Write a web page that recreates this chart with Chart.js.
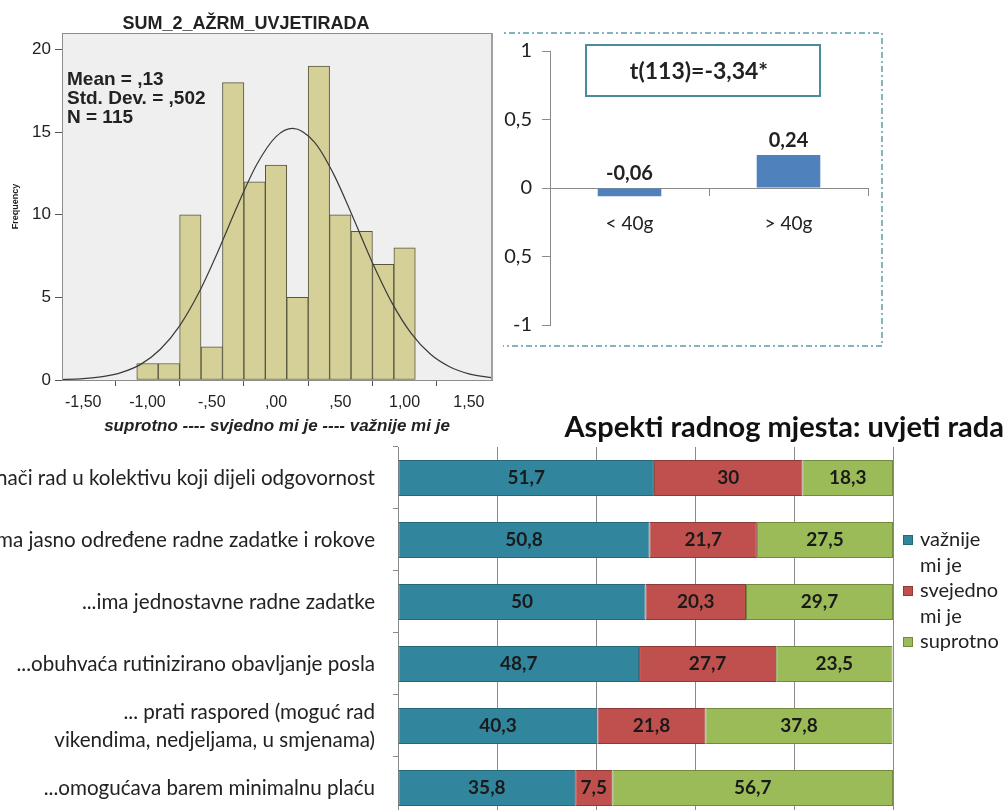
<!DOCTYPE html>
<html>
<head>
<meta charset="utf-8">
<script src="https://cdn.jsdelivr.net/npm/chart.js@4.4.1/dist/chart.umd.min.js"></script>
<style>
  html, body { margin: 0; padding: 0; background: #fff; overflow: hidden; }
  body { width: 1005px; height: 810px; position: relative; }
  canvas { position: absolute; }
  #hist { left: 0; top: 0; z-index: 3; }
  #ttest { left: 490px; top: 30px; z-index: 2; }
  #aspects { left: 0; top: 400px; z-index: 1; }
</style>
</head>
<body>
<canvas id="hist" width="503" height="440"></canvas>
<canvas id="ttest" width="400" height="320"></canvas>
<canvas id="aspects" width="1005" height="451"></canvas>
<script>
// --- histogram (SPSS) ---
const histTitle = 'SUM_2_AŽRM_UVJETIRADA';
const histXTitle = 'suprotno ---- svjedno mi je ---- važnije mi je';
const binCenters = [-1.0, -0.8333, -0.6667, -0.5, -0.3333, -0.1667, 0, 0.1667, 0.3333, 0.5, 0.6667, 0.8333, 1.0];
const binCounts = [1, 1, 10, 2, 18, 12, 13, 5, 19, 10, 9, 7, 8];
const curveX = [-1.7, -1.5, -1.35, -1.2, -1.05, -0.9, -0.75, -0.6, -0.45, -0.3, -0.15, 0, 0.13, 0.3, 0.45, 0.6, 0.75, 0.9, 1.05, 1.2, 1.35, 1.5, 1.7];
const curveY = [0.02, 0.08, 0.2, 0.46, 0.96, 1.86, 3.28, 5.29, 7.81, 10.55, 13.04, 14.73, 15.23, 14.38, 12.43, 9.82, 7.1, 4.7, 2.84, 1.57, 0.8, 0.37, 0.12];
const histTickValues = [-1.5, -1, -0.5, 0, 0.5, 1, 1.5];
const histTickLabels = ['-1,50', '-1,00', '-,50', ',00', ',50', '1,00', '1,50'];
const histYTicks = [0, 5, 10, 15, 20];
const histStats = ['Mean = ,13', 'Std. Dev. = ,502', 'N = 115'];

// --- t-test bars ---
const ageGroups = ['< 40g', '> 40g'];
const groupMeans = [-0.06, 0.24];
const ttestYTicks = [-1, -0.5, 0, 0.5, 1];
const ttestLabel = 't(113)=-3,34*';

// --- stacked aspects ---
const aspectTitle = 'Aspekti radnog mjesta: uvjeti rada';
const aspectLabels = [
    '...znači rad u kolektivu koji dijeli odgovornost',
    '...ima jasno određene radne zadatke i rokove',
    '...ima jednostavne radne zadatke',
    '...obuhvaća rutinizirano obavljanje posla',
    ['... prati raspored (moguć rad', 'vikendima, nedjeljama, u smjenama)'],
    '...omogućava barem minimalnu plaću'
];
const importantShare = [51.7, 50.8, 50, 48.7, 40.3, 35.8];
const indifferentShare = [30, 21.7, 20.3, 27.7, 21.8, 7.5];
const oppositeShare = [18.3, 27.5, 29.7, 23.5, 37.8, 56.7];
const seriesNames = ['važnije mi je', 'svejedno mi je', 'suprotno'];
const legendLines = [['važnije', 'mi je'], ['svejedno', 'mi je'], ['suprotno']];
const percentTicks = [0, 20, 40, 60, 80, 100];

const COLORS = {
    histBar: '#d5d098',
    histEdge: '#56563f',
    histPlot: '#efefef',
    curve: '#3a3a3a',
    meanBar: '#4f81bd',
    frame: '#5f9aaa',
    important: '#31859c',
    indifferent: '#c0504d',
    opposite: '#9bbb59',
    axis: '#8a8a8a',
    text: '#222',
};
const ARIAL = "'Liberation Sans', Arial, sans-serif";
const CALIBRI = "Lato, 'Noto Sans', sans-serif";

function commaNum(v, digits) {
    return (digits === undefined ? String(v) : v.toFixed(digits)).replace('.', ',');
}

const histDecor = {
    id: 'histDecor',
    beforeDraw(chart) {
        const { ctx, chartArea: a } = chart;
        ctx.save();
        ctx.fillStyle = '#fff';
        ctx.fillRect(0, 0, chart.width, chart.height);
        ctx.fillStyle = COLORS.histPlot;
        ctx.fillRect(a.left, a.top, a.right - a.left, a.bottom - a.top);
        ctx.restore();
    },
    afterDraw(chart) {
        const { ctx, chartArea: a } = chart;
        ctx.save();
        ctx.strokeStyle = '#8c8c8c';
        ctx.lineWidth = 1;
        ctx.strokeRect(a.left + 0.5, a.top + 0.5, a.right - a.left - 1, a.bottom - a.top);
        ctx.lineWidth = 2;
        ctx.strokeStyle = '#a0a0a0';
        ctx.beginPath();
        ctx.moveTo(a.right, a.top);
        ctx.lineTo(a.right, a.bottom);
        ctx.stroke();
        ctx.fillStyle = COLORS.text;
        ctx.font = `bold 19px ${ARIAL}`;
        ctx.textBaseline = 'middle';
        histStats.forEach((s, i) => ctx.fillText(s, a.left + 5, a.top + 47 + i * 19));
        ctx.restore();
    }
};

new Chart(document.getElementById('hist'), {
    type: 'bar',
    data: {
        datasets: [
            {
                type: 'line',
                data: curveX.map((x, i) => ({ x: x, y: curveY[i] })),
                borderColor: COLORS.curve,
                borderWidth: 1.2,
                pointRadius: 0,
                cubicInterpolationMode: 'monotone',
                order: 0
            },
            {
                type: 'bar',
                data: binCenters.map((x, i) => ({ x: x, y: binCounts[i] })),
                backgroundColor: COLORS.histBar,
                borderColor: COLORS.histEdge,
                borderWidth: 1,
                borderSkipped: false,
                barPercentage: 1,
                categoryPercentage: 1,
                order: 1
            }
        ]
    },
    options: {
        responsive: false,
        animation: false,
        devicePixelRatio: 1,
        layout: { padding: { top: 0, right: 11, bottom: 0, left: 0 } },
        plugins: {
            legend: { display: false },
            tooltip: { enabled: false },
            title: {
                display: true,
                text: histTitle,
                color: COLORS.text,
                font: { family: ARIAL, size: 18, weight: 'bold', lineHeight: 1 },
                padding: { top: 15, bottom: 0 }
            }
        },
        scales: {
            x: {
                type: 'linear',
                min: -1.665,
                max: 1.68,
                offset: false,
                afterBuildTicks: s => { s.ticks = histTickValues.map(v => ({ value: v })); },
                afterFit: s => { s.height = 60; },
                ticks: {
                    callback: v => histTickLabels[histTickValues.indexOf(v)],
                    font: { family: ARIAL, size: 16 },
                    color: COLORS.text,
                    padding: 7,
                    maxRotation: 0,
                    autoSkip: false
                },
                grid: { drawOnChartArea: false, tickLength: 6, color: '#555' },
                border: { color: '#8c8c8c' },
                title: {
                    display: true,
                    text: histXTitle,
                    color: COLORS.text,
                    font: { family: ARIAL, size: 17, weight: 'bold', style: 'italic' },
                    padding: { top: 4, bottom: 3 }
                }
            },
            y: {
                min: 0,
                max: 21,
                afterBuildTicks: s => { s.ticks = histYTicks.map(v => ({ value: v })); },
                afterFit: s => { s.width = 62; },
                ticks: { font: { family: ARIAL, size: 17 }, color: COLORS.text, padding: 4 },
                grid: { drawOnChartArea: false, tickLength: 7, color: '#555' },
                border: { color: '#8c8c8c' },
                title: {
                    display: true,
                    text: 'Frequency',
                    color: COLORS.text,
                    font: { family: ARIAL, size: 9, weight: 'bold' },
                    padding: { top: 10, bottom: 0 }
                }
            }
        }
    },
    plugins: [histDecor]
});

const ttestDecor = {
    id: 'ttestDecor',
    afterDraw(chart) {
        const { ctx, chartArea: a } = chart;
        ctx.save();
        // dash-dot frame
        ctx.strokeStyle = COLORS.frame;
        ctx.lineWidth = 1.5;
        ctx.setLineDash([6, 3, 2, 3]);
        ctx.strokeRect(5, 3, 387, 313);
        ctx.setLineDash([]);
        // value labels
        ctx.fillStyle = COLORS.text;
        ctx.font = `bold 20px ${CALIBRI}`;
        ctx.textAlign = 'center';
        ctx.textBaseline = 'middle';
        chart.getDatasetMeta(0).data.forEach((bar, i) => {
            const top = Math.min(bar.y, bar.base);
            ctx.fillText(commaNum(groupMeans[i], 2), bar.x, top - 15);
        });
        // t-test box
        const cx = (a.left + a.right) / 2 - 6;
        ctx.strokeStyle = '#4a8b9c';
        ctx.lineWidth = 2;
        ctx.strokeRect(cx - 117, a.top - 6, 234, 51);
        ctx.font = `bold 23px ${CALIBRI}`;
        ctx.fillText(ttestLabel, cx - 4, a.top + 21);
        ctx.restore();
    }
};

new Chart(document.getElementById('ttest'), {
    type: 'bar',
    data: {
        labels: ageGroups,
        datasets: [{
            data: groupMeans,
            backgroundColor: COLORS.meanBar,
            barPercentage: 0.4,
            categoryPercentage: 1
        }]
    },
    options: {
        responsive: false,
        animation: false,
        devicePixelRatio: 1,
        layout: { padding: { top: 21, right: 22, bottom: 25, left: 0 } },
        plugins: { legend: { display: false }, tooltip: { enabled: false } },
        scales: {
            x: {
                position: { y: 0 },
                grid: { offset: true, drawOnChartArea: false, tickLength: 7, color: COLORS.axis },
                border: { color: COLORS.axis },
                ticks: { font: { family: CALIBRI, size: 19 }, color: COLORS.text, padding: 17 }
            },
            y: {
                min: -1,
                max: 1,
                afterBuildTicks: s => { s.ticks = ttestYTicks.map(v => ({ value: v })); },
                afterFit: s => { s.width = 60; },
                ticks: {
                    callback: v => commaNum(v),
                    font: { family: CALIBRI, size: 20, lineHeight: 1 },
                    color: COLORS.text,
                    padding: 10
                },
                grid: { drawOnChartArea: false, tickLength: 8, color: COLORS.axis },
                border: { color: COLORS.axis }
            }
        }
    },
    plugins: [ttestDecor]
});

const aspectDecor = {
    id: 'aspectDecor',
    afterDraw(chart) {
        const { ctx } = chart;
        ctx.save();
        // segment values
        ctx.fillStyle = '#1a1a1a';
        ctx.font = `bold 19px ${CALIBRI}`;
        ctx.textAlign = 'center';
        ctx.textBaseline = 'middle';
        chart.data.datasets.forEach((ds, d) => {
            chart.getDatasetMeta(d).data.forEach((bar, i) => {
                ctx.fillText(commaNum(ds.data[i]), (bar.x + bar.base) / 2, bar.y);
            });
        });
        // title
        ctx.fillStyle = '#111';
        ctx.font = `bold 29px ${CALIBRI}`;
        ctx.textAlign = 'right';
        ctx.fillText(aspectTitle, 1004, 28);
        // legend
        ctx.textAlign = 'left';
        ctx.font = `20px ${CALIBRI}`;
        let y = 140;
        legendLines.forEach((lines, d) => {
            const ds = chart.data.datasets[d];
            ctx.fillStyle = ds.backgroundColor;
            ctx.fillRect(903, y - 5, 10, 10);
            ctx.strokeStyle = ds.borderColor;
            ctx.lineWidth = 1;
            ctx.strokeRect(903.5, y - 4.5, 9, 9);
            ctx.fillStyle = COLORS.text;
            lines.forEach(line => {
                ctx.fillText(line, 920, y);
                y += 25.5;
            });
        });
        ctx.restore();
    }
};

new Chart(document.getElementById('aspects'), {
    type: 'bar',
    data: {
        labels: aspectLabels,
        datasets: [
            { label: seriesNames[0], data: importantShare, backgroundColor: COLORS.important, borderColor: '#26687a' },
            { label: seriesNames[1], data: indifferentShare, backgroundColor: COLORS.indifferent, borderColor: '#8e3a38' },
            { label: seriesNames[2], data: oppositeShare, backgroundColor: COLORS.opposite, borderColor: '#718a3e' }
        ]
    },
    options: {
        indexAxis: 'y',
        responsive: false,
        animation: false,
        devicePixelRatio: 1,
        datasets: { bar: { barPercentage: 0.58, categoryPercentage: 1, borderWidth: 1, borderSkipped: false } },
        layout: { padding: { top: 47, right: 112, bottom: 0, left: 0 } },
        plugins: { legend: { display: false }, tooltip: { enabled: false } },
        scales: {
            x: {
                stacked: true,
                min: 0,
                max: 100,
                afterBuildTicks: s => { s.ticks = percentTicks.map(v => ({ value: v })); },
                afterFit: s => { s.height = 11; },
                ticks: { display: false },
                grid: { color: COLORS.axis, drawTicks: false },
                border: { display: false }
            },
            y: {
                stacked: true,
                afterFit: s => { s.width = 398; },
                ticks: {
                    font: { family: CALIBRI, size: 20.6, lineHeight: 1.36 },
                    color: COLORS.text,
                    padding: 18,
                    autoSkip: false
                },
                grid: { offset: true, drawOnChartArea: false, tickLength: 5, color: COLORS.axis },
                border: { color: COLORS.axis }
            }
        }
    },
    plugins: [aspectDecor]
});
</script>
</body>
</html>
